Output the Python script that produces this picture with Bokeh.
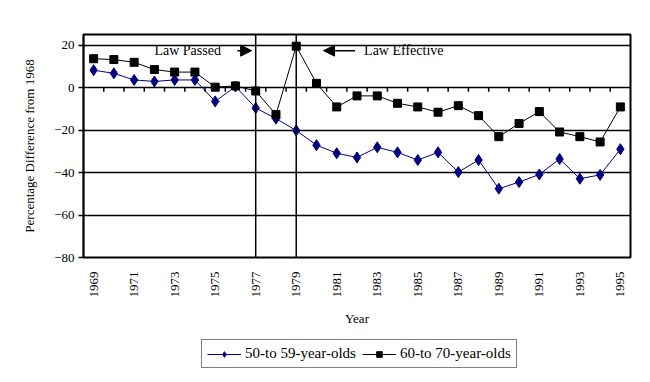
from bokeh.plotting import figure
from bokeh.layouts import column
from bokeh.models import (FixedTicker, Span, Arrow, NormalHead, Label,
                          Legend, LegendItem)
from bokeh.embed import file_html
from bokeh.resources import INLINE
import math

years = list(range(1969, 1996))
age_50_59 = [8.2, 6.7, 3.6, 2.9, 3.6, 3.6, -6.5, 0.5, -9.6, -14.6, -20.2, -27.1,
             -30.9, -32.9, -28.1, -30.5, -34.1, -30.5, -39.8, -34.1, -47.6, -44.5,
             -40.9, -33.6, -42.9, -41.1, -29.0]
age_60_70 = [13.6, 13.2, 11.9, 8.5, 7.3, 7.3, 0.2, 0.8, -1.6, -12.7, 19.5, 2.0,
             -9.1, -3.9, -3.9, -7.4, -9.1, -11.6, -8.5, -13.2, -23.1, -16.9,
             -11.3, -20.9, -23.1, -25.6, -9.1]
x_tick_years = list(range(1969, 1996, 2))
y_ticks = [-80, -60, -40, -20, 0, 20]
law_years = [1977, 1979]
law_labels = ["Law Passed", "Law Effective"]
series_names = ["50-to 59-year-olds", "60-to 70-year-olds"]

FONT = "Liberation Serif"

p = figure(width=640, height=330, output_backend="svg", toolbar_location=None,
           x_range=(1968.5, 1995.5), y_range=(-80, 25),
           min_border_left=83, min_border_right=10, min_border_top=34,
           min_border_bottom=73)
p.background_fill_color = "white"
p.border_fill_color = "white"
p.outline_line_color = "black"
p.outline_line_width = 2

# grids
p.xgrid.visible = False
p.ygrid.ticker = FixedTicker(ticks=y_ticks)
p.ygrid.grid_line_color = "black"
p.ygrid.grid_line_width = 1.3

# y axis
p.yaxis.ticker = FixedTicker(ticks=y_ticks)
p.yaxis.axis_line_color = "black"
p.yaxis.axis_line_width = 1.5
p.yaxis.major_tick_line_color = "black"
p.yaxis.major_tick_line_width = 1.5
p.yaxis.major_tick_out = 5
p.yaxis.major_tick_in = 0
p.yaxis.minor_tick_line_color = None
p.yaxis.major_label_text_font = FONT
p.yaxis.major_label_text_font_size = "13px"
p.yaxis.major_label_text_color = "black"
p.yaxis.major_label_standoff = 4
p.yaxis.axis_label = "Percentage Difference from 1968"
p.yaxis.axis_label_text_font = FONT
p.yaxis.axis_label_text_font_size = "13px"
p.yaxis.axis_label_text_font_style = "normal"
p.yaxis.axis_label_text_color = "black"
p.yaxis.axis_label_standoff = 14

# x axis
p.xaxis.ticker = FixedTicker(ticks=x_tick_years)
p.xaxis.major_label_orientation = math.pi / 2
p.xaxis.axis_line_color = None
p.xaxis.major_tick_line_color = None
p.xaxis.minor_tick_line_color = None
p.xaxis.major_label_text_font = FONT
p.xaxis.major_label_text_font_size = "13px"
p.xaxis.major_label_text_color = "black"
p.xaxis.major_label_standoff = 8
p.xaxis.axis_label = "Year"
p.xaxis.axis_label_text_font = FONT
p.xaxis.axis_label_text_font_size = "13px"
p.xaxis.axis_label_text_font_style = "normal"
p.xaxis.axis_label_text_color = "black"
p.xaxis.axis_label_standoff = 10

# category-boundary ticks on the zero line
bounds = [y + 0.5 for y in years[:-1]]
p.segment(x0=bounds, y0=[0] * len(bounds), x1=bounds, y1=[-1.9] * len(bounds),
          line_color="black", line_width=1.5)

# law vertical lines
for yr in law_years:
    p.add_layout(Span(location=yr, dimension="height", line_color="black", line_width=1.5))

# series
p.line(years, age_50_59, line_color="#000080", line_width=1)
p.scatter(years, age_50_59, marker="diamond", size=11,
          fill_color="#000080", line_color="#000080")
p.line(years, age_60_70, line_color="black", line_width=1)
p.scatter(years, age_60_70, marker="square", size=8,
          fill_color="black", line_color="black")

# annotations
p.add_layout(Arrow(end=NormalHead(size=11, fill_color="black", line_color="black"),
                   x_start=1976.1, y_start=17.4, x_end=1976.8, y_end=17.4,
                   line_color="black", line_width=1.5))
p.add_layout(Arrow(end=NormalHead(size=11, fill_color="black", line_color="black"),
                   x_start=1981.9, y_start=17.4, x_end=1980.35, y_end=17.4,
                   line_color="black", line_width=1.5))
p.add_layout(Label(x=1972.0, y=17.4, text=law_labels[0], text_font=FONT,
                   text_font_size="14px", text_baseline="middle", text_color="black"))
p.add_layout(Label(x=1982.35, y=17.4, text=law_labels[1], text_font=FONT,
                   text_font_size="14px", text_baseline="middle", text_color="black"))

# legend in a small companion figure (proxy renderers lie outside its view)
lf = figure(width=640, height=44, output_backend="svg", toolbar_location=None,
            x_axis_type=None, y_axis_type=None, x_range=(0, 1), y_range=(0, 1),
            min_border_left=83, min_border_right=10, min_border_top=0, min_border_bottom=0)
lf.outline_line_color = None
lf.grid.visible = False
l1 = lf.line(years[:2], age_50_59[:2], line_color="#000080", line_width=1)
s1 = lf.scatter(years[:1], age_50_59[:1], marker="diamond", size=11,
                fill_color="#000080", line_color="#000080")
l2 = lf.line(years[:2], age_60_70[:2], line_color="black", line_width=1)
s2 = lf.scatter(years[:1], age_60_70[:1], marker="square", size=8,
                fill_color="black", line_color="black")

legend = Legend(items=[LegendItem(label=series_names[0], renderers=[l1, s1]),
                       LegendItem(label=series_names[1], renderers=[l2, s2])],
                orientation="horizontal", location=(118, 6))
legend.label_text_font = FONT
legend.label_text_font_size = "15px"
legend.label_text_color = "black"
legend.border_line_color = "black"
legend.border_line_width = 1.5
legend.glyph_width = 34
legend.glyph_height = 14
legend.label_standoff = 4
legend.spacing = 6
legend.padding = 5
legend.margin = 0
legend.label_height = 14
lf.add_layout(legend, "center")

layout = column(p, lf, spacing=0)
open("out.html", "w").write(file_html(layout, INLINE))
